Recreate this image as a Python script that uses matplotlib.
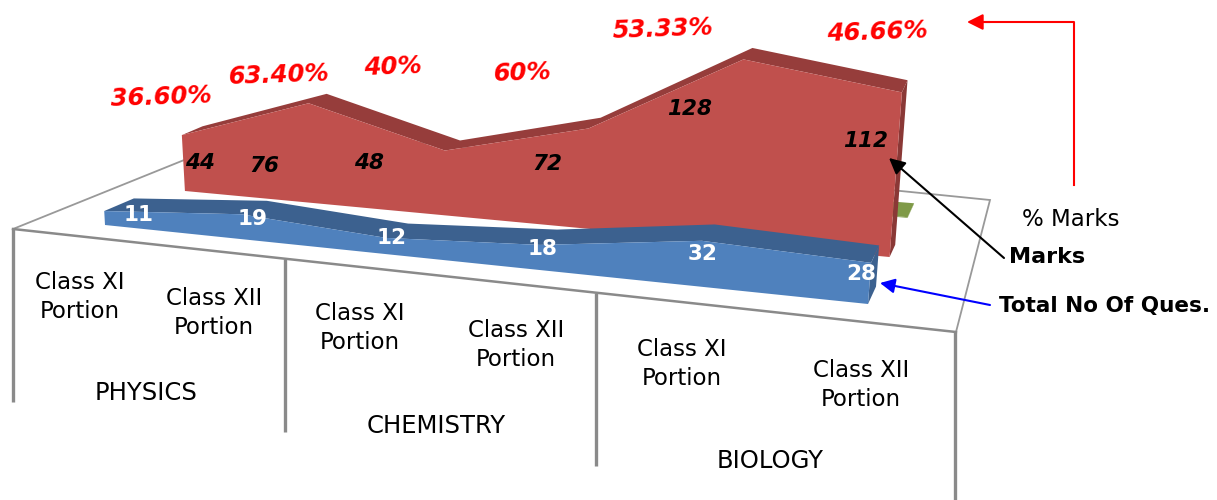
import numpy as np
import matplotlib
matplotlib.use('Agg')
import matplotlib.pyplot as plt
from matplotlib.patches import Polygon

plt.rcParams['font.family'] = ['DejaVu Sans']

# Data
portions = ['Class XI\nPortion', 'Class XII\nPortion'] * 3
subjects = ['PHYSICS', 'CHEMISTRY', 'BIOLOGY']
total_ques = [11, 19, 12, 18, 32, 28]
marks = [44, 76, 48, 72, 128, 112]
pct_marks = [36.60, 63.40, 40, 60, 53.33, 46.66]
pct_labels = ['36.60%', '63.40%', '40%', '60%', '53.33%', '46.66%']

# label positions in picture pixels
ques_pos = [(139, 215), (253, 219), (392, 238), (543, 249), (703, 254), (861, 274)]
marks_pos = [(200, 163), (264, 166), (369, 163), (547, 164), (690, 109), (866, 141)]
pct_pos = [(161, 97), (279, 75), (393, 67), (523, 73), (663, 29), (877, 32)]
portion_pos = [(80, 297), (214, 313), (360, 328), (516, 345), (682, 364), (861, 385)]
subject_pos = [(146, 393), (436, 426), (770, 461)]


def project(c, v, z):
    # category index, value, depth -> picture pixels (the old 3D excel view)
    c = np.asarray(c, dtype=float)
    v = np.asarray(v, dtype=float)
    t = c / 5 * (0.87 + 0.13 * c / 5)
    left_x, left_y = 105 + 29.6 * z, 225 - 12.6 * z
    right_x, right_y = 868 + 8 * z, 304 - 17.4 * z
    k = 1.27 + 0.04 * c
    lean = -0.07 + 0.036 * c
    x = left_x + (right_x - left_x) * t + lean * v
    y = left_y + (right_y - left_y) * t - k * v
    return np.column_stack([x, y])


def draw_area(ax, values, z_front, z_back, front_col, top_col, side_col):
    values = np.asarray(values, dtype=float)
    c = np.arange(len(values))
    zeros = np.zeros(len(values))
    front = np.vstack([project(c, values, z_front), project(c, zeros, z_front)[::-1]])
    top = np.vstack([project(c, values, z_back), project(c, values, z_front)[::-1]])
    side = np.vstack([project(c[-1:], values[-1:], z_front), project(c[-1:], values[-1:], z_back),
                      project(c[-1:], zeros[-1:], z_back), project(c[-1:], zeros[-1:], z_front)])
    ax.add_patch(Polygon(top, closed=True, fc=top_col, ec='none', zorder=3))
    ax.add_patch(Polygon(side, closed=True, fc=side_col, ec='none', zorder=3))
    ax.add_patch(Polygon(front, closed=True, fc=front_col, ec='none', zorder=3))


fig = plt.figure(figsize=(12.17, 5), dpi=100)
ax = fig.add_axes([0, 0, 1, 1])
ax.set_xlim(0, 1217)
ax.set_ylim(500, 0)
ax.axis('off')

# floor and category dividers
grey = '#8a8a8a'
ax.plot([13, 266, 990, 956], [229, 127, 200, 332], color='#999999', lw=1.3, solid_joinstyle='miter', zorder=2)
ax.plot([13, 956], [229, 332], color=grey, lw=1.8, zorder=2)
for x, y0, y1 in [(13, 229, 402), (285, 259, 432), (596, 293, 466), (955, 332, 500)]:
    ax.plot([x, x], [y0, y1], color=grey, lw=2.4, solid_capstyle='butt', zorder=2)

# series, back to front
draw_area(ax, [p / 100 for p in pct_marks], 4.95, 5.75, '#7F9A48', '#7F9A48', '#7F9A48')
draw_area(ax, marks, 2.7, 3.4, '#C0504D', '#963D3B', '#8A3836')
draw_area(ax, total_ques, 0, 1, '#4F81BD', '#3C618F', '#3C618F')

# data labels
for s, (x, y) in zip(total_ques, ques_pos):
    ax.text(x, y, str(s), color='white', fontsize=15.5, fontweight='bold', ha='center', va='center', zorder=5)
for s, (x, y) in zip(marks, marks_pos):
    ax.text(x, y, str(s), color='black', fontsize=15.5, fontweight='bold', style='italic', ha='center', va='center', zorder=5)
for s, (x, y) in zip(pct_labels, pct_pos):
    ax.text(x, y, s, color='red', fontsize=17.5, fontweight='bold', style='italic', ha='center', va='center', rotation=2, zorder=5)

# axis labels
for s, (x, y) in zip(portions, portion_pos):
    ax.text(x, y, s, color='black', fontsize=16.5, ha='center', va='center', linespacing=1.3)
for s, (x, y) in zip(subjects, subject_pos):
    ax.text(x, y, s, color='black', fontsize=17.5, ha='center', va='center')

# callouts
ax.plot([1074, 1074, 985], [185, 22, 22], color='red', lw=1.5)
ax.annotate('', xy=(967, 22), xytext=(990, 22),
            arrowprops=dict(arrowstyle='-|>', color='red', lw=1.5, mutation_scale=24, shrinkA=0, shrinkB=0))
ax.annotate('', xy=(889, 158), xytext=(1004, 258), zorder=6,
            arrowprops=dict(arrowstyle='-|>', color='black', lw=1.5, mutation_scale=24, shrinkA=0, shrinkB=0))
ax.annotate('', xy=(880, 283), xytext=(990, 305), zorder=6,
            arrowprops=dict(arrowstyle='-|>', color='blue', lw=1.5, mutation_scale=22, shrinkA=0, shrinkB=0))
ax.text(1071, 219, '% Marks', fontsize=16.5, ha='center', va='center')
ax.text(1047, 257, 'Marks', fontsize=16, fontweight='bold', ha='center', va='center')
ax.text(1105, 306, 'Total No Of Ques.', fontsize=15.5, fontweight='bold', ha='center', va='center')

fig.savefig('out.png', dpi=100)
